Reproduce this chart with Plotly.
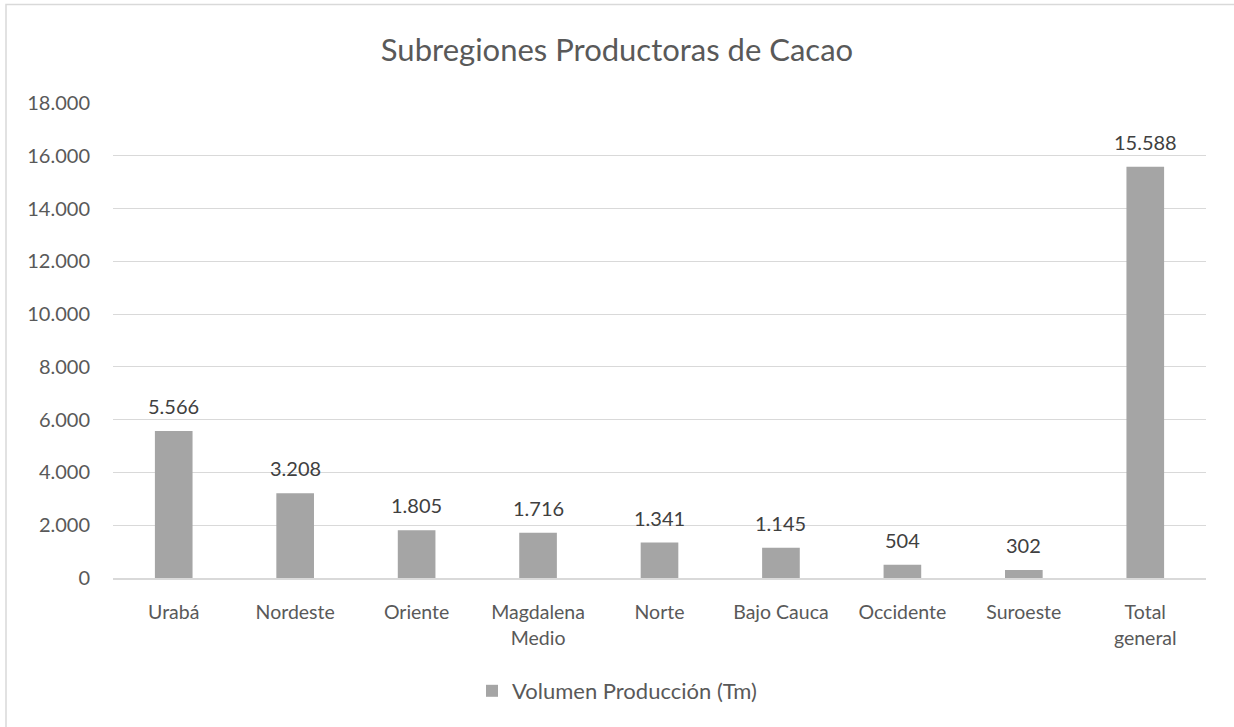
import plotly.graph_objects as go

categories = ["Urabá", "Nordeste", "Oriente", "Magdalena<br>Medio", "Norte",
              "Bajo Cauca", "Occidente", "Suroeste", "Total<br>general"]
values = [5566, 3208, 1805, 1716, 1341, 1145, 504, 302, 15588]
series_name = "Volumen Producción (Tm)"
title_text = "Subregiones Productoras de Cacao"
y_ticks = list(range(0, 18001, 2000))

FONT = "Lato, Carlito, Calibri, 'Open Sans', sans-serif"


def fmt(v):
    return f"{v:,}".replace(",", ".")


fig = go.Figure(go.Bar(
    x=categories, y=values, name=series_name,
    marker=dict(color="#A5A5A5", line=dict(width=0)),
    width=0.31,
))

for c, v in zip(categories, values):
    fig.add_annotation(x=c, y=v, text=fmt(v), showarrow=False,
                       yanchor="bottom", yshift=11,
                       font=dict(size=20, color="#404040", family=FONT))

L, R, T, B = 113, 1206, 103, 578
W = R - L
H = B - T


def px(x):
    return (x - L) / W


def py(y):
    return (B - y) / H


fig.update_layout(
    width=1234, height=727,
    margin=dict(l=L, r=1234 - R, t=T, b=727 - B, autoexpand=False),
    paper_bgcolor="white", plot_bgcolor="white",
    separators=",.",
    font=dict(family=FONT, color="#595959", size=19),
    title=dict(text=title_text, x=0.5, xref="container", xanchor="center",
               y=1 - 50 / 727, yanchor="middle",
               font=dict(size=31, color="#595959", family=FONT)),
    showlegend=True,
    legend=dict(orientation="h", x=0.5, xref="container", xanchor="center",
                y=py(691), yanchor="middle",
                font=dict(size=22, color="#595959", family=FONT)),
    xaxis=dict(showline=True, linecolor="#D9D9D9", linewidth=1.5, ticks="",
               tickfont=dict(size=19.5, color="#595959"), ticklabelstandoff=16,
               showgrid=False),
    yaxis=dict(range=[0, 18000], tickvals=y_ticks, tickformat=",d",
               showgrid=True, gridcolor="#D9D9D9", gridwidth=1.2,
               zeroline=False, showline=False, ticks="",
               tickfont=dict(size=20, color="#595959"), ticklabelstandoff=22),
    shapes=[dict(type="rect", xref="paper", yref="paper",
                 x0=px(6), x1=px(1245), y0=py(745), y1=py(4.5),
                 line=dict(color="#D9D9D9", width=1.5), fillcolor="rgba(0,0,0,0)",
                 layer="below")],
)

fig.write_html("out.html", config={"displayModeBar": False},
               post_script="document.body.style.margin='0';document.body.style.overflow='hidden';")
